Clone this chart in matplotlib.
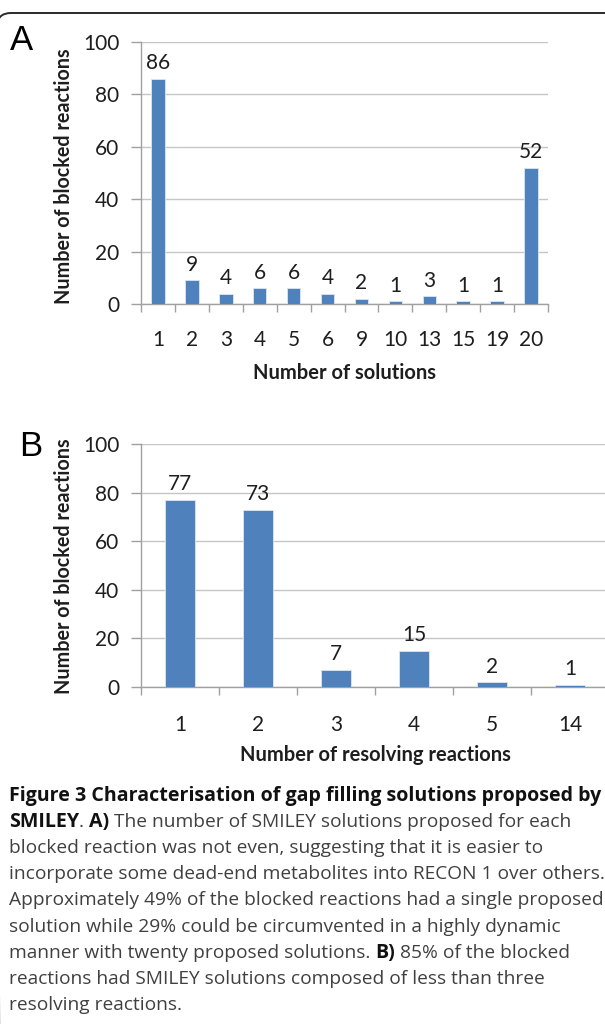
import numpy as np
import matplotlib
matplotlib.use("Agg")
import matplotlib.pyplot as plt
from matplotlib.patches import FancyBboxPatch
from matplotlib.transforms import IdentityTransform

# ---------------- data ----------------
sol_cats = ["1", "2", "3", "4", "5", "6", "9", "10", "13", "15", "19", "20"]
sol_vals = [86, 9, 4, 6, 6, 4, 2, 1, 3, 1, 1, 52]
res_cats = ["1", "2", "3", "4", "5", "14"]
res_vals = [77, 73, 7, 15, 2, 1]
y_ticks = [0, 20, 40, 60, 80, 100]
x_title_a = "Number of solutions"
x_title_b = "Number of resolving reactions"
y_title = "Number of blocked reactions"

caption_lines = [
    [("Figure 3 Characterisation of gap filling solutions proposed by", True)],
    [("SMILEY", True), (". ", False), ("A)", True),
     (" The number of SMILEY solutions proposed for each", False)],
    [("blocked reaction was not even, suggesting that it is easier to", False)],
    [("incorporate some dead-end metabolites into RECON 1 over others.", False)],
    [("Approximately 49% of the blocked reactions had a single proposed", False)],
    [("solution while 29% could be circumvented in a highly dynamic", False)],
    [("manner with twenty proposed solutions. ", False), ("B)", True),
     (" 85% of the blocked", False)],
    [("reactions had SMILEY solutions composed of less than three", False)],
    [("resolving reactions.", False)],
]

# ---------------- style ----------------
W, H = 605, 1024
BAR = "#4F81BD"
GRID = "#C6C6C6"
AXC = "#A0A0A0"
TXT = "#1E1E1E"
FONT = ["Lato", "DejaVu Sans"]
CAPFONT = ["Open Sans", "DejaVu Sans"]
TICKSIZE = 15
TITLESIZE = 14.5

fig = plt.figure(figsize=(W / 100, H / 100), dpi=100)


def rect(l, r, t, b):
    return [l / W, 1 - b / H, (r - l) / W, (b - t) / H]


def fx(x):
    return x / W


def fy(y):
    return 1 - y / H


def panel(r, cats, vals, width, xpad):
    ax = fig.add_axes(r)
    x = np.arange(len(cats))
    bars = ax.bar(x, vals, width=width, color=BAR, zorder=3,
                  edgecolor="#DCE6F2", linewidth=0.6)
    ax.set_xlim(-0.5, len(cats) - 0.5)
    ax.set_ylim(0, 100)
    ax.set_yticks(y_ticks)
    ax.set_yticklabels([str(v) for v in y_ticks], fontfamily=FONT,
                       fontsize=TICKSIZE, color=TXT)
    ax.set_xticks(x)
    ax.set_xticklabels(cats, fontfamily=FONT, fontsize=TICKSIZE, color=TXT)
    ax.set_xticks(np.arange(len(cats) + 1) - 0.5, minor=True)
    ax.tick_params(axis="x", which="major", length=0, pad=xpad)
    ax.tick_params(axis="x", which="minor", length=6, width=1, color=AXC,
                   direction="out")
    ax.tick_params(axis="y", which="major", length=7, width=1, color=AXC,
                   direction="out", pad=8.5)
    ax.yaxis.grid(True, color=GRID, linewidth=1)
    ax.set_axisbelow(True)
    for s in ["top", "right"]:
        ax.spines[s].set_visible(False)
    for s in ["left", "bottom"]:
        ax.spines[s].set_color(AXC)
        ax.spines[s].set_linewidth(1)
    ax.bar_label(bars, labels=[str(v) for v in vals], padding=4,
                 fontfamily=FONT, fontsize=TICKSIZE, color=TXT)
    return ax


axA = panel(rect(141, 548, 42, 304), sol_cats, sol_vals, 0.4, 19)
axB = panel(rect(141, 609, 444, 687), res_cats, res_vals, 0.38, 20.5)

fig.text(fx(344.5), fy(373), x_title_a, ha="center", va="center",
         fontfamily=FONT, fontweight="bold", fontsize=TITLESIZE, color=TXT)
fig.text(fx(375), fy(755), x_title_b, ha="center", va="center",
         fontfamily=FONT, fontweight="bold", fontsize=TITLESIZE, color=TXT)
fig.text(fx(64), fy(176), y_title, ha="center", va="center", rotation=90,
         fontfamily=FONT, fontweight="bold", fontsize=14.2, color=TXT)
fig.text(fx(64), fy(566), y_title, ha="center", va="center", rotation=90,
         fontfamily=FONT, fontweight="bold", fontsize=14.2, color=TXT)

fig.text(fx(21), fy(41), "A", ha="center", va="center",
         fontfamily=["Liberation Sans", "DejaVu Sans"], fontsize=25, color="black")
fig.text(fx(31), fy(446), "B", ha="center", va="center",
         fontfamily=["Liberation Sans", "DejaVu Sans"], fontsize=25, color="black")

# rounded frame top edge
frame = FancyBboxPatch((-3, -600), 800, H - 13 + 600,
                       boxstyle="round,pad=0,rounding_size=14",
                       transform=IdentityTransform(), fill=False,
                       edgecolor="#2A2A2A", linewidth=1.4)
fig.add_artist(frame)

# ---------------- caption ----------------
renderer = fig.canvas.get_renderer()


def measure(s, bold, size):
    t = fig.text(0, 0, s, fontfamily=CAPFONT, fontsize=size,
                 fontweight="bold" if bold else "normal")
    w = t.get_window_extent(renderer).width
    t.remove()
    return w


target = 593.0
size_n = 10 * target / measure(caption_lines[4][0][0], False, 10)
size_b = 10 * target / measure(caption_lines[0][0][0], True, 10)

x0 = 9
base0 = 801
step = 26.1
for i, line in enumerate(caption_lines):
    x = x0
    y = base0 + i * step
    for s, bold in line:
        size = size_b if bold else size_n
        t = fig.text(fx(x), fy(y), s, ha="left", va="baseline",
                     fontfamily=CAPFONT, fontsize=size,
                     fontweight="bold" if bold else "normal",
                     color="#111111" if bold else "#404040")
        x += t.get_window_extent(renderer).width

fig.savefig("out.png", dpi=100)
